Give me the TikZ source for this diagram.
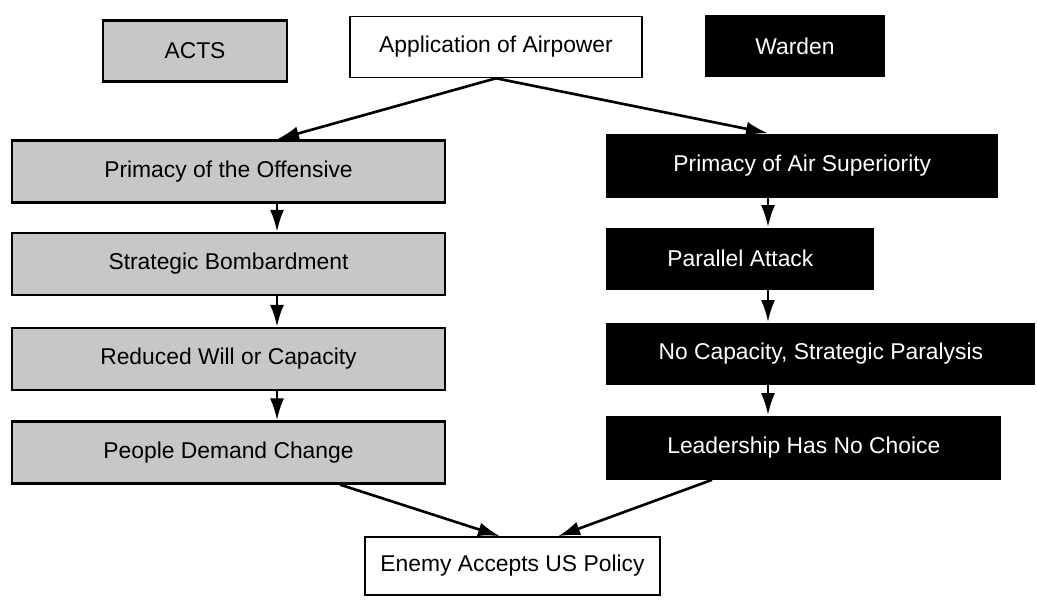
\documentclass[tikz,border=0pt]{standalone}
\usepackage{fontspec}
\setmainfont{Liberation Sans}
\usetikzlibrary{positioning,arrows.meta}

\begin{document}
\begin{tikzpicture}[x=0.02cm,y=-0.02cm,font=\fontsize{13}{15}\selectfont]
\tikzstyle{acts}=[rectangle, draw=black, line width=1.3pt, fill=black!22, minimum width=8.66cm, minimum height=1.24cm, inner sep=0pt]
\tikzstyle{warden}=[rectangle, fill=black, text=white, minimum height=1.24cm, inner sep=0pt, anchor=west]
\tikzstyle{plain}=[rectangle, draw=black, line width=0.9pt, fill=white, minimum height=1.2cm, inner sep=0pt]
\tikzstyle{connect}=[-{Latex[length=4.4mm,width=2.8mm]}, line width=1.5pt]
\useasboundingbox (0,0) rectangle (1037,600);
	% headings
	\node[acts, minimum width=3.68cm, minimum height=1.22cm] (acts) at (195,51) {ACTS};
	\node[plain, minimum width=5.84cm, minimum height=1.22cm] (app) at (496,47) {Application of Airpower};
	\node[warden, anchor=center, minimum width=3.6cm] (warden) at (795,46) {Warden};

	% ACTS column
	\node[acts] (a_1) at (228.5,171.5) {Primacy of the Offensive};
	\node[acts] (a_2) at (228.5,264) {Strategic Bombardment};
	\node[acts] (a_3) at (228.5,359) {Reduced Will or Capacity};
	\node[acts] (a_4) at (228.5,452.5) {People Demand Change};

	% Warden column
	\node[warden, minimum width=7.84cm, minimum height=1.28cm] (w_1) at (606,165.5) {Primacy of Air Superiority};
	\node[warden, minimum width=5.36cm] (w_2) at (606,258.5) {Parallel Attack};
	\node[warden, minimum width=8.58cm] (w_3) at (606,353.5) {No Capacity, Strategic Paralysis};
	\node[warden, minimum width=7.9cm, minimum height=1.28cm] (w_4) at (606,447.5) {Leadership Has No Choice};

	\node[plain, minimum width=5.9cm, minimum height=1.16cm] (enemy) at (512.5,566) {Enemy Accepts US Policy};

	\coordinate (axis_l) at (277,0);
	\coordinate (axis_r) at (768,0);
	\coordinate (out_l) at (340,0);
	\coordinate (out_r) at (712,0);
	\coordinate (in_l) at (500,0);
	\coordinate (in_r) at (558,0);

	\path[connect]
		(app.south) edge (a_1.north -| axis_l)
		(app.south) edge (w_1.north -| axis_r)
		(a_1.south -| axis_l) edge (a_2.north -| axis_l)
		(a_2.south -| axis_l) edge (a_3.north -| axis_l)
		(a_3.south -| axis_l) edge (a_4.north -| axis_l)
		(w_1.south -| axis_r) edge (w_2.north -| axis_r)
		(w_2.south -| axis_r) edge (w_3.north -| axis_r)
		(w_3.south -| axis_r) edge (w_4.north -| axis_r)
		(a_4.south -| out_l) edge (enemy.north -| in_l)
		(w_4.south -| out_r) edge (enemy.north -| in_r);
\end{tikzpicture}
\end{document}
